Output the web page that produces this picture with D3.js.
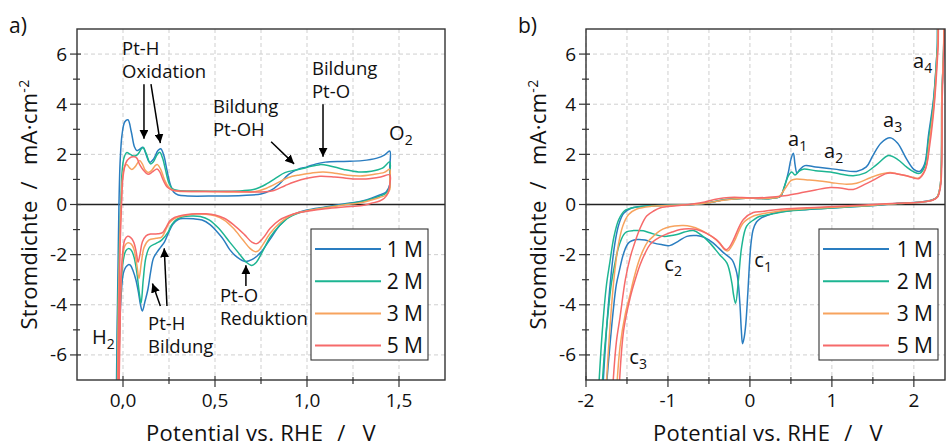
<!DOCTYPE html>
<html>
<head>
<meta charset="utf-8">
<script src="https://cdn.jsdelivr.net/npm/d3@7"></script>
<style>
body { margin: 0; background: #fff; }
svg text { font-family: "Open Sans", Lato, sans-serif; fill: #111; white-space: pre; }
</style>
</head>
<body>
<div id="chart"></div>
<script>
const concentrations = ["1 M", "2 M", "3 M", "5 M"]
const colors = ["#2a7dc0", "#1db592", "#f7a35e", "#f66a6a"]

// a) Pt CV, [potential V, current mA/cm2], anodic sweep then cathodic sweep
const cvA_1M = [
  [-0.036,-7.6],[-0.032,-5],[-0.027,-2.5],[-0.022,0],[-0.015,1.8],[-0.005,2.8],[0.01,3.3],[0.027,3.38],[0.045,2.9],
  [0.062,2.3],[0.075,2.15],[0.09,2.2],[0.109,2.28],[0.125,2.0],[0.145,1.68],[0.165,1.8],[0.19,2.15],[0.205,2.22],
  [0.222,1.95],[0.238,1.4],[0.255,0.85],[0.275,0.5],[0.3,0.38],[0.35,0.34],[0.5,0.34],[0.65,0.36],[0.75,0.42],
  [0.8,0.55],[0.85,0.82],[0.9,1.2],[0.95,1.4],[1.0,1.5],[1.05,1.62],[1.1,1.69],[1.2,1.72],[1.3,1.75],[1.38,1.85],
  [1.42,1.97],[1.45,2.13],
  [1.45,1.5],[1.45,0.8],[1.43,0.5],[1.395,0.38],[1.35,0.25],[1.3,0.14],[1.2,0.02],[1.1,-0.1],[1.0,-0.22],[0.95,-0.33],
  [0.9,-0.5],[0.85,-0.85],[0.8,-1.38],[0.75,-1.9],[0.7,-2.2],[0.663,-2.27],[0.62,-2.1],[0.58,-1.8],[0.546,-1.4],
  [0.5,-1.0],[0.473,-0.8],[0.43,-0.62],[0.383,-0.57],[0.33,-0.56],[0.3,-0.6],[0.27,-0.8],[0.247,-1.13],[0.225,-1.5],
  [0.205,-1.7],[0.185,-1.9],[0.165,-2.15],[0.15,-2.7],[0.135,-3.4],[0.12,-3.85],[0.105,-4.25],[0.095,-4.0],
  [0.084,-3.5],[0.07,-3.0],[0.056,-2.67],[0.04,-2.42],[0.029,-2.4],[0.015,-2.5],[0.002,-2.74],[-0.01,-3.6],
  [-0.018,-5.0],[-0.026,-7.6]
]
const cvA_2M = [
  [-0.033,-7.6],[-0.028,-4],[-0.02,-1.5],[-0.012,0],[-0.005,1.3],[0.005,1.85],[0.02,2.07],[0.04,2.0],[0.062,1.93],
  [0.08,2.0],[0.1,2.22],[0.11,2.27],[0.125,2.05],[0.15,1.62],[0.165,1.7],[0.185,1.98],[0.2,2.08],[0.215,1.85],
  [0.232,1.35],[0.25,0.85],[0.27,0.62],[0.3,0.56],[0.4,0.54],[0.55,0.53],[0.65,0.55],[0.72,0.62],[0.78,0.82],
  [0.83,1.05],[0.88,1.27],[0.94,1.38],[1.0,1.48],[1.07,1.59],[1.12,1.55],[1.2,1.4],[1.28,1.3],[1.35,1.33],
  [1.41,1.45],[1.45,1.7],
  [1.45,1.2],[1.45,0.7],[1.43,0.45],[1.395,0.33],[1.35,0.22],[1.3,0.12],[1.2,0.0],[1.1,-0.12],[1.0,-0.25],
  [0.95,-0.35],[0.9,-0.52],[0.85,-0.85],[0.8,-1.3],[0.76,-1.85],[0.725,-2.3],[0.7,-2.43],[0.67,-2.3],[0.63,-1.95],
  [0.58,-1.5],[0.52,-0.95],[0.47,-0.62],[0.42,-0.48],[0.37,-0.46],[0.32,-0.5],[0.29,-0.6],[0.265,-0.8],
  [0.245,-1.1],[0.21,-1.42],[0.18,-1.55],[0.145,-1.7],[0.125,-2.1],[0.11,-3.0],[0.098,-3.94],[0.088,-3.5],
  [0.075,-2.7],[0.06,-2.1],[0.045,-1.82],[0.029,-1.76],[0.015,-1.85],[0.002,-2.2],[-0.01,-3.2],[-0.02,-5.2],
  [-0.028,-7.6]
]
const cvA_3M = [
  [-0.03,-7.6],[-0.025,-4],[-0.018,-1.5],[-0.01,0],[-0.002,1.1],[0.008,1.5],[0.02,1.6],[0.035,1.47],[0.048,1.4],
  [0.065,1.5],[0.09,1.75],[0.105,1.62],[0.12,1.38],[0.136,1.28],[0.155,1.35],[0.175,1.55],[0.187,1.59],
  [0.205,1.4],[0.225,1.0],[0.245,0.72],[0.27,0.58],[0.3,0.53],[0.45,0.52],[0.6,0.5],[0.72,0.52],[0.78,0.65],
  [0.85,0.9],[0.9,1.08],[0.96,1.18],[1.02,1.25],[1.087,1.3],[1.15,1.25],[1.22,1.17],[1.29,1.14],[1.36,1.2],
  [1.42,1.28],[1.45,1.4],
  [1.45,1.0],[1.45,0.6],[1.43,0.38],[1.395,0.28],[1.35,0.18],[1.3,0.08],[1.2,-0.02],[1.1,-0.13],[1.0,-0.25],
  [0.95,-0.33],[0.9,-0.48],[0.85,-0.75],[0.8,-1.15],[0.76,-1.6],[0.735,-1.85],[0.717,-1.88],[0.69,-1.75],
  [0.65,-1.4],[0.6,-0.95],[0.55,-0.62],[0.5,-0.45],[0.45,-0.39],[0.4,-0.38],[0.35,-0.42],[0.3,-0.5],
  [0.275,-0.58],[0.25,-0.75],[0.23,-1.05],[0.21,-1.3],[0.18,-1.35],[0.14,-1.42],[0.115,-1.7],[0.1,-2.3],
  [0.087,-2.95],[0.075,-2.4],[0.06,-1.8],[0.045,-1.58],[0.025,-1.53],[0.01,-1.65],[0.0,-2.0],[-0.01,-3.0],
  [-0.018,-5.0],[-0.025,-7.6]
]
const cvA_5M = [
  [-0.028,-7.6],[-0.022,-4],[-0.015,-1.5],[-0.008,0],[0.0,1.1],[0.015,1.65],[0.035,1.85],[0.06,1.9],[0.075,1.85],
  [0.09,1.6],[0.11,1.38],[0.136,1.21],[0.16,1.3],[0.185,1.42],[0.2,1.3],[0.22,0.95],[0.24,0.7],[0.265,0.58],
  [0.3,0.54],[0.45,0.52],[0.6,0.52],[0.75,0.5],[0.82,0.56],[0.88,0.75],[0.93,0.9],[1.0,1.05],[1.07,1.13],
  [1.15,1.1],[1.25,1.02],[1.32,1.02],[1.4,1.1],[1.45,1.18],
  [1.45,0.8],[1.44,0.45],[1.42,0.25],[1.395,0.14],[1.35,0.05],[1.3,-0.04],[1.2,-0.1],[1.1,-0.17],[1.0,-0.27],
  [0.95,-0.33],[0.9,-0.45],[0.85,-0.62],[0.8,-0.95],[0.76,-1.35],[0.727,-1.56],[0.7,-1.5],[0.66,-1.2],[0.6,-0.8],
  [0.55,-0.55],[0.5,-0.42],[0.45,-0.37],[0.4,-0.37],[0.35,-0.4],[0.3,-0.47],[0.28,-0.52],[0.255,-0.65],
  [0.235,-0.9],[0.215,-1.12],[0.19,-1.17],[0.15,-1.18],[0.125,-1.25],[0.105,-1.5],[0.092,-2.0],[0.082,-2.3],
  [0.072,-1.9],[0.058,-1.5],[0.042,-1.32],[0.025,-1.27],[0.01,-1.4],[0.0,-1.8],[-0.01,-2.9],[-0.016,-5.0],
  [-0.022,-7.6]
]

// b) wide potential window
const cvB_1M = [
  [-1.80,-7.6],[-1.75,-5.0],[-1.70,-3.0],[-1.65,-1.6],[-1.6,-0.8],[-1.54,-0.35],[-1.45,-0.15],[-1.3,-0.07],
  [-1.0,-0.03],[-0.7,0.0],[-0.5,0.07],[-0.35,0.17],[-0.2,0.22],[-0.05,0.25],[0.1,0.24],[0.25,0.24],[0.37,0.32],
  [0.42,0.7],[0.47,1.3],[0.5,1.8],[0.53,2.04],[0.55,1.6],[0.575,1.25],[0.61,1.4],[0.67,1.55],[0.8,1.5],
  [0.935,1.45],[1.1,1.38],[1.3,1.32],[1.42,1.5],[1.5,1.95],[1.6,2.45],[1.71,2.66],[1.8,2.45],[1.91,1.82],
  [2.0,1.4],[2.07,1.32],[2.13,1.6],[2.18,2.8],[2.24,4.2],[2.285,6.2],[2.31,7.6],
  [2.345,7.6],[2.34,4.0],[2.335,1.5],[2.32,0.7],[2.285,0.3],[2.22,0.18],[2.15,0.13],[2.0,0.08],[1.8,0.05],
  [1.5,-0.04],[1.2,-0.1],[0.9,-0.16],[0.7,-0.2],[0.45,-0.26],[0.29,-0.35],[0.2,-0.45],[0.13,-0.55],[0.08,-0.7],
  [0.04,-1.0],[0.015,-1.5],[0.0,-2.07],[-0.025,-3.5],[-0.05,-4.75],[-0.07,-5.3],[-0.09,-5.55],[-0.105,-5.0],
  [-0.12,-4.08],[-0.14,-3.2],[-0.16,-2.74],[-0.19,-2.4],[-0.22,-2.2],[-0.32,-1.93],[-0.45,-1.53],[-0.55,-1.32],
  [-0.65,-1.24],[-0.77,-1.27],[-0.88,-1.48],[-0.98,-1.64],[-1.08,-1.6],[-1.18,-1.53],[-1.28,-1.42],[-1.38,-1.4],
  [-1.48,-1.53],[-1.54,-1.94],[-1.59,-2.6],[-1.63,-3.2],[-1.67,-4.3],[-1.71,-5.68],[-1.76,-7.6]
]
const cvB_2M = [
  [-1.85,-7.6],[-1.8,-5.0],[-1.75,-3.2],[-1.71,-2.33],[-1.66,-1.3],[-1.6,-0.6],[-1.53,-0.25],[-1.42,-0.12],
  [-1.2,-0.05],[-0.9,-0.02],[-0.7,0.0],[-0.5,0.07],[-0.35,0.17],[-0.2,0.22],[-0.05,0.25],[0.1,0.24],[0.25,0.24],
  [0.37,0.32],[0.42,0.72],[0.47,1.15],[0.51,1.3],[0.55,1.18],[0.6,1.33],[0.65,1.41],[0.8,1.35],[0.98,1.3],
  [1.1,1.22],[1.26,1.15],[1.4,1.25],[1.55,1.6],[1.69,1.95],[1.8,1.8],[1.91,1.5],[2.0,1.3],[2.07,1.24],
  [2.13,1.5],[2.18,2.6],[2.24,4.1],[2.285,6.2],[2.31,7.6],
  [2.345,7.6],[2.34,4.0],[2.335,1.5],[2.32,0.7],[2.285,0.3],[2.22,0.17],[2.15,0.12],[2.0,0.07],[1.8,0.04],
  [1.5,-0.04],[1.2,-0.1],[0.9,-0.16],[0.7,-0.2],[0.45,-0.27],[0.29,-0.36],[0.2,-0.42],[0.12,-0.47],[0.05,-0.6],
  [-0.04,-0.86],[-0.1,-1.67],[-0.14,-3.0],[-0.175,-3.94],[-0.2,-3.6],[-0.22,-3.14],[-0.28,-2.34],[-0.37,-2.0],
  [-0.49,-1.53],[-0.6,-1.2],[-0.69,-1.04],[-0.8,-1.1],[-0.89,-1.2],[-1.06,-1.27],[-1.22,-1.13],[-1.3,-1.05],
  [-1.42,-1.04],[-1.5,-1.08],[-1.54,-1.2],[-1.6,-1.67],[-1.65,-2.4],[-1.69,-3.14],[-1.73,-4.3],[-1.77,-5.68],
  [-1.81,-7.6]
]
const cvB_3M = [
  [-1.76,-7.6],[-1.71,-5.0],[-1.66,-3.0],[-1.61,-1.7],[-1.55,-0.85],[-1.48,-0.4],[-1.38,-0.18],[-1.2,-0.07],
  [-0.9,-0.03],[-0.7,0.0],[-0.5,0.07],[-0.35,0.16],[-0.2,0.22],[-0.05,0.25],[0.1,0.24],[0.25,0.25],[0.35,0.3],
  [0.4,0.5],[0.45,0.74],[0.5,0.95],[0.55,1.01],[0.7,0.98],[0.85,0.94],[1.0,0.87],[1.18,0.81],[1.3,0.85],
  [1.47,1.07],[1.6,1.22],[1.71,1.28],[1.8,1.22],[1.91,1.15],[2.06,1.06],[2.14,1.4],[2.19,2.5],[2.245,4.0],
  [2.29,6.2],[2.315,7.6],
  [2.345,7.6],[2.34,4.0],[2.335,1.5],[2.32,0.7],[2.285,0.3],[2.22,0.17],[2.15,0.12],[2.0,0.07],[1.8,0.04],
  [1.5,-0.03],[1.2,-0.08],[0.9,-0.13],[0.7,-0.16],[0.45,-0.22],[0.29,-0.3],[0.15,-0.37],[0.05,-0.45],
  [-0.08,-0.73],[-0.18,-1.4],[-0.23,-1.7],[-0.27,-1.85],[-0.31,-1.8],[-0.37,-1.53],[-0.5,-1.2],[-0.61,-1.0],
  [-0.72,-0.88],[-0.81,-0.84],[-0.92,-0.86],[-1.02,-0.93],[-1.1,-1.05],[-1.18,-1.27],[-1.25,-1.5],[-1.3,-1.8],
  [-1.36,-2.3],[-1.42,-3.0],[-1.47,-3.7],[-1.52,-4.35],[-1.585,-5.68],[-1.63,-7.6]
]
const cvB_5M = [
  [-1.68,-7.6],[-1.63,-5.5],[-1.585,-4.5],[-1.52,-3.0],[-1.46,-2.1],[-1.42,-1.67],[-1.34,-0.95],[-1.26,-0.46],
  [-1.17,-0.25],[-1.09,-0.13],[-0.9,-0.05],[-0.7,0.02],[-0.55,0.1],[-0.4,0.22],[-0.25,0.28],[-0.1,0.28],
  [0.05,0.26],[0.2,0.28],[0.37,0.33],[0.45,0.36],[0.6,0.45],[0.8,0.58],[0.98,0.68],[1.1,0.66],[1.26,0.6],
  [1.4,0.8],[1.55,1.05],[1.65,1.22],[1.71,1.26],[1.8,1.22],[1.91,1.15],[2.06,1.03],[2.14,1.4],[2.195,2.4],
  [2.25,4.0],[2.295,6.2],[2.32,7.6],
  [2.35,7.6],[2.345,4.0],[2.34,1.5],[2.325,0.7],[2.29,0.3],[2.23,0.17],[2.15,0.12],[2.0,0.07],[1.8,0.05],
  [1.5,0.0],[1.2,-0.05],[0.9,-0.1],[0.7,-0.13],[0.45,-0.17],[0.29,-0.22],[0.15,-0.28],[0.04,-0.32],
  [-0.08,-0.6],[-0.2,-1.4],[-0.25,-1.7],[-0.29,-1.8],[-0.33,-1.7],[-0.41,-1.4],[-0.53,-1.15],[-0.65,-1.0],
  [-0.75,-0.97],[-0.85,-1.0],[-0.95,-1.1],[-1.06,-1.24],[-1.15,-1.4],[-1.22,-1.6],[-1.28,-1.95],[-1.34,-2.4],
  [-1.4,-3.0],[-1.46,-3.7],[-1.54,-5.0],[-1.6,-7.6]
]

const yMajor = [-6, -4, -2, 0, 2, 4, 6]
const yMinor = [-5, -3, -1, 1, 3, 5]
const xMajorA = [0, 0.5, 1.0, 1.5]
const xMinorA = [0.25, 0.75, 1.25]
const xMajorB = [-2, -1, 0, 1, 2]
const xMinorB = [-1.5, -0.5, 0.5, 1.5]

const width = 946, height = 448
const plotTop = 29, plotBottom = 380

let svg = d3.select("#chart").append("svg")
    .attr("width", width).attr("height", height)

let defs = svg.append("defs")
defs.append("marker")
    .attr("id", "arrow")
    .attr("viewBox", "0 0 10 10")
    .attr("refX", 10).attr("refY", 5)
    .attr("markerWidth", 9).attr("markerHeight", 9)
    .attr("markerUnits", "userSpaceOnUse")
    .attr("orient", "auto")
    .append("path").attr("d", "M0,0 L10,5 L0,10 z").attr("fill", "#000")

function addSub(textSel, main, sub, subSize) {
    textSel.append("tspan").text(main)
    textSel.append("tspan").attr("font-size", subSize).attr("dy", 5).text(sub)
}

function drawPanel(cfg) {
    let x = d3.scaleLinear().domain(cfg.xDomain).range([cfg.left, cfg.right])
    let y = d3.scaleLinear().domain([-7, 7]).range([plotBottom, plotTop])
    let g = svg.append("g")

    g.append("clipPath").attr("id", "clip-" + cfg.id)
        .append("rect")
        .attr("x", cfg.left).attr("y", plotTop)
        .attr("width", cfg.right - cfg.left).attr("height", plotBottom - plotTop)

    // grid: verticals at every tick, horizontals at majors
    let vGrid = cfg.xMajor.concat(cfg.xMinor)
    g.selectAll(".vgrid").data(vGrid).join("line")
        .attr("x1", d => x(d)).attr("x2", d => x(d))
        .attr("y1", plotTop).attr("y2", plotBottom)
        .attr("stroke", "#cfcfcf").attr("stroke-dasharray", "4,3")
    g.selectAll(".hgrid").data(yMajor.filter(d => d !== 0)).join("line")
        .attr("x1", cfg.left).attr("x2", cfg.right)
        .attr("y1", d => y(d)).attr("y2", d => y(d))
        .attr("stroke", "#cfcfcf").attr("stroke-dasharray", "4,3")

    // zero line
    g.append("line")
        .attr("x1", cfg.left).attr("x2", cfg.right)
        .attr("y1", y(0)).attr("y2", y(0))
        .attr("stroke", "#222").attr("stroke-width", 1.4)

    let line = d3.line()
        .x(d => x(d[0])).y(d => y(d[1]))
        .curve(d3.curveCatmullRom.alpha(0.5))

    let curves = g.append("g").attr("clip-path", `url(#clip-${cfg.id})`)
    cfg.series.forEach((s, i) => {
        curves.append("path")
            .datum(s)
            .attr("d", line)
            .attr("fill", "none")
            .attr("stroke", colors[i])
            .attr("stroke-width", 1.5)
    })

    // frame
    g.append("rect")
        .attr("x", cfg.left).attr("y", plotTop)
        .attr("width", cfg.right - cfg.left).attr("height", plotBottom - plotTop)
        .attr("fill", "none").attr("stroke", "#333").attr("stroke-width", 1.4)

    // ticks cross the axis line
    g.selectAll(".ytick").data(yMajor).join("line")
        .attr("x1", cfg.left - 7).attr("x2", cfg.left + 4)
        .attr("y1", d => y(d)).attr("y2", d => y(d))
        .attr("stroke", "#333").attr("stroke-width", 1.2)
    g.selectAll(".yminor").data(yMinor).join("line")
        .attr("x1", cfg.left - 4).attr("x2", cfg.left + 3)
        .attr("y1", d => y(d)).attr("y2", d => y(d))
        .attr("stroke", "#333").attr("stroke-width", 1.2)
    g.selectAll(".xtick").data(cfg.xMajor).join("line")
        .attr("x1", d => x(d)).attr("x2", d => x(d))
        .attr("y1", plotBottom - 4).attr("y2", plotBottom + 7)
        .attr("stroke", "#333").attr("stroke-width", 1.2)
    g.selectAll(".xminor").data(cfg.xMinor).join("line")
        .attr("x1", d => x(d)).attr("x2", d => x(d))
        .attr("y1", plotBottom - 3).attr("y2", plotBottom + 4)
        .attr("stroke", "#333").attr("stroke-width", 1.2)

    g.selectAll(".ylab").data(yMajor).join("text")
        .attr("x", cfg.left - 10).attr("y", d => y(d) + 6.5)
        .attr("text-anchor", "end").attr("font-size", 19)
        .text(d => d3.format("d")(d).replace("−", "-"))
    g.selectAll(".xlab").data(cfg.xMajor).join("text")
        .attr("x", d => x(d)).attr("y", 407)
        .attr("text-anchor", "middle").attr("font-size", 19)
        .text(cfg.xFormat)

    // axis titles
    let yt = g.append("text")
        .attr("transform", `translate(${cfg.yTitleX},${(plotTop + plotBottom) / 2}) rotate(-90)`)
        .attr("text-anchor", "middle").attr("font-size", 22)
        .attr("letter-spacing", 0.3)
    yt.append("tspan").text("Stromdichte")
    yt.append("tspan").attr("dx", 11).text("/")
    yt.append("tspan").attr("dx", 16).text("mA·cm")
    yt.append("tspan").attr("font-size", 14).attr("dy", -8).text("-2")

    let xt = g.append("text")
        .attr("x", cfg.xTitleX).attr("y", 441)
        .attr("text-anchor", "middle").attr("font-size", 22)
        .attr("letter-spacing", 0.3)
    xt.append("tspan").text("Potential vs. RHE")
    xt.append("tspan").attr("dx", 14).text("/")
    xt.append("tspan").attr("dx", 17).text("V")

    g.append("text")
        .attr("x", cfg.tagX).attr("y", 33)
        .attr("font-size", 21)
        .text(cfg.tag)

    // legend
    let lg = g.append("g")
    lg.append("rect")
        .attr("x", cfg.legend.x).attr("y", 229)
        .attr("width", cfg.legend.w).attr("height", 131)
        .attr("fill", "#fff").attr("stroke", "#333").attr("stroke-width", 1.1)
    concentrations.forEach((c, i) => {
        let ly = 249 + i * 32.2
        lg.append("line")
            .attr("x1", cfg.legend.x + 4).attr("x2", cfg.legend.x + 70)
            .attr("y1", ly).attr("y2", ly)
            .attr("stroke", colors[i]).attr("stroke-width", 2)
        lg.append("text")
            .attr("x", cfg.legend.x + cfg.legend.w - 5).attr("y", ly + 7.5)
            .attr("text-anchor", "end").attr("font-size", 21)
            .text(c)
    })

    return {x, y, g}
}

let pa = drawPanel({
    id: "a", left: 77, right: 445, xDomain: [-0.25, 1.75],
    xMajor: xMajorA, xMinor: xMinorA,
    xFormat: d => d3.format(".1f")(d).replace(".", ","),
    series: [cvA_1M, cvA_2M, cvA_3M, cvA_5M],
    yTitleX: 37, xTitleX: 261, tag: "a)", tagX: 9,
    legend: {x: 311, w: 117}
})

let pb = drawPanel({
    id: "b", left: 586, right: 945, xDomain: [-2, 2.38],
    xMajor: xMajorB, xMinor: xMinorB,
    xFormat: d => d3.format("d")(d).replace("−", "-"),
    series: [cvB_1M, cvB_2M, cvB_3M, cvB_5M],
    yTitleX: 546, xTitleX: 768, tag: "b)", tagX: 518,
    legend: {x: 819, w: 119}
})

// annotations panel a
function label(p, lines, E, j) {
    let t = p.g.append("text").attr("font-size", 18.5)
    lines.forEach((s, i) => {
        t.append("tspan").attr("x", p.x(E)).attr("y", p.y(j) + i * 23).text(s)
    })
}
function arrow(p, E1, j1, E2, j2) {
    p.g.append("line")
        .attr("x1", p.x(E1)).attr("y1", p.y(j1))
        .attr("x2", p.x(E2)).attr("y2", p.y(j2))
        .attr("stroke", "#000").attr("stroke-width", 1.5)
        .attr("marker-end", "url(#arrow)")
}

label(pa, ["Pt-H", "Oxidation"], -0.005, 5.96)
arrow(pa, 0.114, 4.8, 0.114, 2.62)
arrow(pa, 0.152, 4.8, 0.203, 2.45)
label(pa, ["Bildung", "Pt-OH"], 0.489, 3.65)
arrow(pa, 0.805, 2.5, 0.93, 1.62)
label(pa, ["Bildung", "Pt-O"], 1.027, 5.17)
arrow(pa, 1.087, 4.0, 1.087, 1.9)
label(pa, ["Pt-H", "Bildung"], 0.136, -5.0)
arrow(pa, 0.203, -4.05, 0.16, -3.15)
arrow(pa, 0.239, -4.05, 0.224, -1.75)
label(pa, ["Pt-O", "Reduktion"], 0.527, -3.89)
arrow(pa, 0.668, -3.25, 0.668, -2.42)

addSub(pa.g.append("text").attr("x", pa.x(1.446)).attr("y", pa.y(2.57)).attr("font-size", 20), "O", "2", 14)
addSub(pa.g.append("text").attr("x", pa.x(-0.168)).attr("y", pa.y(-5.56)).attr("font-size", 20), "H", "2", 14)

// annotations panel b
const peakLabels = [
    ["a", "1", 0.465, 2.33], ["a", "2", 0.904, 1.85], ["a", "3", 1.624, 3.09], ["a", "4", 1.99, 5.44],
    ["c", "1", 0.054, -2.49], ["c", "2", -1.044, -2.65], ["c", "3", -1.471, -6.36]
]
peakLabels.forEach(d => {
    addSub(pb.g.append("text").attr("x", pb.x(d[2])).attr("y", pb.y(d[3])).attr("font-size", 20), d[0], d[1], 14)
})
</script>
</body>
</html>
